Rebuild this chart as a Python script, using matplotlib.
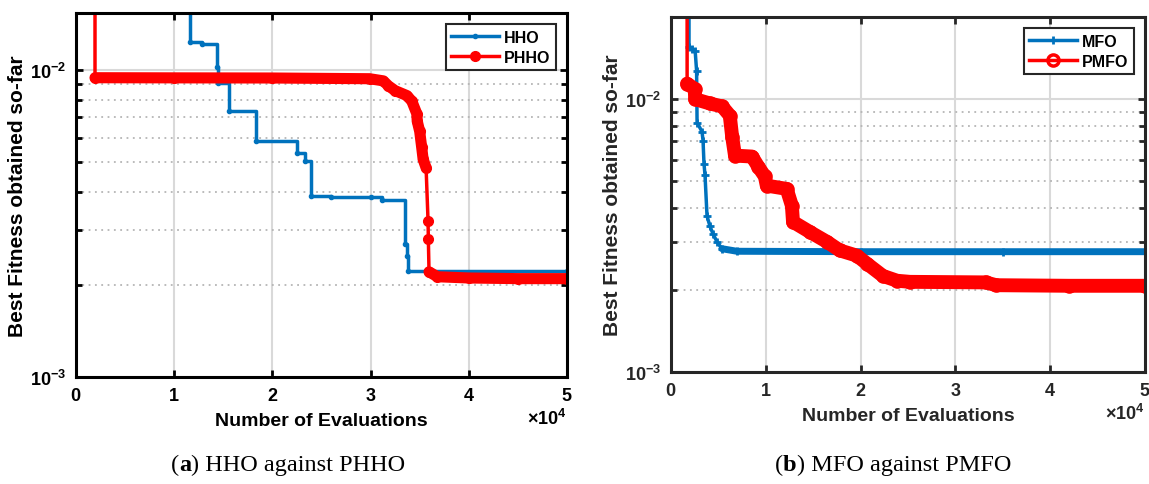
import matplotlib
matplotlib.use("Agg")
import matplotlib.pyplot as plt
from matplotlib.ticker import ScalarFormatter, NullFormatter, LogLocator
from matplotlib.offsetbox import TextArea, HPacker, AnnotationBbox

# ---- data (x = evaluations, y = best fitness) ----
hho_x = [2000, 11600, 12800, 14360, 14450, 15600, 18330, 22500, 23300, 23930,
         26000, 30000, 31200, 33500, 33700, 33800, 50000]
hho_y = [0.025, 0.0123, 0.0121, 0.0102, 0.00907, 0.00735, 0.00587, 0.00537, 0.00506, 0.00389,
         0.00386, 0.00384, 0.00377, 0.00271, 0.00248, 0.00222, 0.00222]

phho_x = [1935, 1935, 10000, 20000, 29900, 31300, 31800, 32500, 33700, 34200, 34700,
          34750, 35000, 35200, 35350, 35650, 35850, 35880, 35950, 36800, 40000, 45000, 50000]
phho_y = [0.03, 0.00942, 0.00941, 0.0094, 0.00935, 0.0092, 0.00887, 0.00855, 0.00824, 0.0079, 0.0072,
          0.0068, 0.0063, 0.0056, 0.00511, 0.0048, 0.00322, 0.00281, 0.0022, 0.00212, 0.0021, 0.00209, 0.00209]

mfo_x = [1900, 1900, 2200, 2550, 2700, 2750, 3270, 3380, 3480, 3590, 3800, 4110,
         4430, 4850, 5380, 6960, 20000, 35000, 50000]
mfo_y = [0.03, 0.0155, 0.0153, 0.0150, 0.0127, 0.00821, 0.0076, 0.00705, 0.0058, 0.00525, 0.00373, 0.00342,
         0.00321, 0.0030, 0.00283, 0.00277, 0.00276, 0.00276, 0.00276]

pmfo_x = [1700, 1700, 2500, 2550, 4100, 5400, 6200, 6450, 6750, 8550, 9200, 9900, 10100,
          12200, 12750, 12870, 14650, 16450, 17800, 19600, 20700, 22350, 23850, 25200,
          33200, 34300, 42000, 50000]
pmfo_y = [0.03, 0.0114, 0.0109, 0.0100, 0.00964, 0.0094, 0.00871, 0.00729, 0.00621, 0.00616, 0.00566, 0.00521, 0.00482,
          0.00469, 0.00407, 0.00355, 0.00326, 0.0030, 0.00279, 0.00267, 0.00249, 0.00225, 0.00216, 0.00214,
          0.00213, 0.00208, 0.00207, 0.00207]

x_ticks = [0, 10000, 20000, 30000, 40000, 50000]
captions = [("a", ") HHO against PHHO"), ("b", ") MFO against PMFO")]

BLUE = "#0072BD"
RED = "#FF0000"

plt.rcParams["font.family"] = ["Liberation Sans", "DejaVu Sans"]
plt.rcParams["font.weight"] = "bold"
plt.rcParams["mathtext.fontset"] = "custom"
plt.rcParams["mathtext.rm"] = "Liberation Sans:bold"
plt.rcParams["mathtext.bf"] = "Liberation Sans:bold"
plt.rcParams["mathtext.default"] = "bf"
plt.rcParams["axes.unicode_minus"] = False

fig = plt.figure(figsize=(11.49, 4.85), dpi=100)
W, H = 1149, 485
ax1 = fig.add_axes([76 / W, 107 / H, 491 / W, 364 / H])
ax2 = fig.add_axes([671 / W, 112 / H, 474 / W, 355 / H])


def style_axes(ax, ymax, col):
    ax.set_yscale("log")
    ax.set_xlim(0, 50000)
    ax.set_ylim(1e-3, ymax)
    ax.set_xticks(x_ticks)
    fmt = ScalarFormatter(useMathText=True)
    fmt.set_powerlimits((0, 0))
    ax.xaxis.set_major_formatter(fmt)
    ax.yaxis.set_major_locator(LogLocator(base=10, numticks=5))
    ax.yaxis.set_minor_locator(LogLocator(base=10, subs=range(2, 10), numticks=20))
    ax.yaxis.set_minor_formatter(NullFormatter())
    ax.tick_params(which="both", direction="in", top=True, right=True, colors=col,
                   labelsize=13, width=2)
    ax.tick_params(which="major", length=5, pad=7)
    ax.tick_params(which="minor", length=4)
    ax.tick_params(axis="x", which="minor", bottom=False, top=False)
    ax.xaxis.get_offset_text().set_fontsize(13)
    ax.xaxis.get_offset_text().set_color(col)
    ax.grid(True, which="major", color="#d9d9d9", lw=1.5)
    ax.grid(True, which="minor", axis="y", color="#b5b5b5", lw=1.3, linestyle=(0, (1, 2.5)))
    ax.set_axisbelow(True)
    for sp in ax.spines.values():
        sp.set_linewidth(2.2)
        sp.set_color(col)
    ax.set_xlabel("Number of Evaluations", fontsize=14, fontweight="bold", color=col, labelpad=6)
    ax.set_ylabel("Best Fitness obtained so-far", fontsize=15, fontweight="bold", color=col, labelpad=2)


# ---- (a) HHO vs PHHO ----
ax1.plot(hho_x, hho_y, color=BLUE, lw=2.5, drawstyle="steps-post", marker=".", ms=6, label="HHO")
ax1.plot(phho_x[1:16], phho_y[1:16], color=RED, lw=8, solid_capstyle="round", solid_joinstyle="round")
ax1.plot(phho_x[18:], phho_y[18:], color=RED, lw=8, solid_capstyle="round", solid_joinstyle="round")
ax1.plot(phho_x, phho_y, color=RED, lw=2.5, marker="o", ms=7, label="PHHO")
style_axes(ax1, 0.0153, "black")
leg1 = ax1.legend(loc="upper right", fontsize=11.5, handlelength=3, handletextpad=0.3,
                  borderpad=0.35, labelspacing=0.3, fancybox=False, framealpha=1,
                  edgecolor="#262626", borderaxespad=0.7)
leg1.get_frame().set_linewidth(1.5)

# ---- (b) MFO vs PMFO ----
ax2.plot(mfo_x[14:], mfo_y[14:], color=BLUE, lw=5, solid_capstyle="round")
ax2.plot(mfo_x, mfo_y, color=BLUE, lw=2.5, marker="+", ms=6, mew=2, label="MFO")
ax2.plot(pmfo_x[1:], pmfo_y[1:], color=RED, lw=10, solid_capstyle="round", solid_joinstyle="round")
ax2.plot(pmfo_x, pmfo_y, color=RED, lw=2.5, marker="o", ms=8, mfc="none", mew=2.5, label="PMFO")
style_axes(ax2, 0.02, "#262626")
leg2 = ax2.legend(loc="upper right", fontsize=11.5, handlelength=3, handletextpad=0.3,
                  borderpad=0.35, labelspacing=0.3, fancybox=False, framealpha=1,
                  edgecolor="#262626", borderaxespad=0.7)
leg2.get_frame().set_linewidth(1.5)

# ---- captions ----
for (letter, rest), cx in zip(captions, [288 / W, 893 / W]):
    parts = [TextArea("(", textprops=dict(family="Liberation Serif", size=17.5, weight="normal")),
             TextArea(letter, textprops=dict(family="Liberation Serif", size=17.5, weight="bold")),
             TextArea(rest, textprops=dict(family="Liberation Serif", size=17.5, weight="normal"))]
    box = HPacker(children=parts, align="baseline", pad=0, sep=0)
    ab = AnnotationBbox(box, (cx, 1 - 465 / H), xycoords="figure fraction", frameon=False,
                        box_alignment=(0.5, 0.5))
    fig.add_artist(ab)

fig.savefig("out.png", dpi=100)
